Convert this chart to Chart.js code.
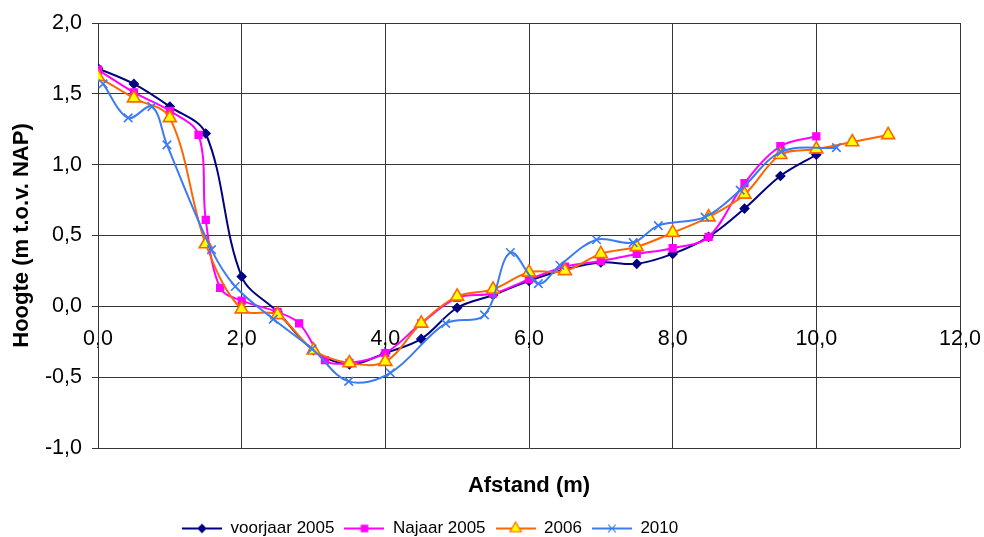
<!DOCTYPE html>
<html>
<head>
<meta charset="utf-8">
<script src="https://cdn.jsdelivr.net/npm/chart.js@4.4.0/dist/chart.umd.min.js"></script>
<style>
  html, body { margin: 0; padding: 0; background: #fff; }
  #wrap { position: relative; width: 984px; height: 537px; }
</style>
</head>
<body>
<div id="wrap"><canvas id="profiel"></canvas></div>
<script>
// afstand (m) en hoogte (m t.o.v. NAP) per meting
const voorjaar05X = [0, 0.5, 1, 1.5, 2, 2.5, 3, 3.5, 4, 4.5, 5, 5.5, 6, 6.5, 7, 7.5, 8, 8.5, 9, 9.5, 10];
const voorjaar05Y = [1.68, 1.57, 1.41, 1.22, 0.21, -0.04, -0.31, -0.41, -0.33, -0.23, -0.01, 0.08, 0.18, 0.26, 0.31, 0.30, 0.37, 0.49, 0.69, 0.92, 1.07];

const najaar05X = [0, 0.5, 1, 1.4, 1.5, 1.7, 2, 2.5, 2.8, 3.16, 3.5, 4, 4.5, 5, 5.5, 6, 6.5, 7, 7.5, 8, 8.5, 9, 9.5, 10];
const najaar05Y = [1.67, 1.51, 1.38, 1.21, 0.61, 0.13, 0.04, -0.04, -0.12, -0.38, -0.40, -0.33, -0.12, 0.06, 0.09, 0.19, 0.28, 0.32, 0.37, 0.41, 0.49, 0.87, 1.13, 1.20];

const meting06X = [0, 0.5, 1, 1.5, 2, 2.5, 3, 3.5, 4, 4.5, 5, 5.5, 6, 6.5, 7, 7.5, 8, 8.5, 9, 9.5, 10, 10.5, 11];
const meting06Y = [1.62, 1.47, 1.33, 0.44, -0.02, -0.06, -0.31, -0.40, -0.39, -0.12, 0.07, 0.12, 0.24, 0.25, 0.37, 0.42, 0.52, 0.63, 0.79, 1.07, 1.11, 1.16, 1.21];

const meting10X = [0.07, 0.42, 0.75, 0.96, 1.58, 1.91, 2.44, 2.98, 3.49, 4.07, 4.84, 5.38, 5.74, 6.13, 6.43, 6.94, 7.45, 7.8, 8.45, 8.94, 9.51, 10.28];
const meting10Y = [1.57, 1.33, 1.41, 1.14, 0.40, 0.14, -0.09, -0.30, -0.53, -0.47, -0.12, -0.06, 0.38, 0.16, 0.29, 0.47, 0.45, 0.57, 0.63, 0.82, 1.09, 1.12];

const labels = ['voorjaar 2005', 'Najaar 2005', '2006', '2010'];

const pts = (xs, ys) => xs.map((x, i) => ({ x, y: ys[i] }));
const komma = v => Number(v).toFixed(1).replace('.', ',');

const gridKleur = '#363636';
Chart.defaults.font.family = "'Liberation Sans', Arial, sans-serif";
Chart.defaults.font.size = 17;
Chart.defaults.color = '#000';

// lijntje met marker voor de legenda
function icoon(lijn, vul, rand, stijl, r) {
  const c = document.createElement('canvas');
  c.width = 40; c.height = 18;
  const g = c.getContext('2d');
  g.strokeStyle = lijn; g.lineWidth = 2;
  g.beginPath(); g.moveTo(0, 9); g.lineTo(40, 9); g.stroke();
  g.fillStyle = vul; g.strokeStyle = rand; g.lineWidth = 1.2;
  Chart.helpers.drawPoint(g, { pointStyle: stijl, radius: r, rotation: 0, borderWidth: 1.2 }, 20, 9);
  return c;
}

const series = [
  { label: labels[0], data: pts(voorjaar05X, voorjaar05Y), kleur: '#000080', vul: '#000080', stijl: 'rectRot', r: 4.5, order: 3 },
  { label: labels[1], data: pts(najaar05X, najaar05Y), kleur: '#ff00ff', vul: '#ff00ff', stijl: 'rect', r: 5, order: 2 },
  { label: labels[2], data: pts(meting06X, meting06Y), kleur: '#ff6600', vul: '#ffff00', stijl: 'triangle', r: 7.5, order: 1 },
  { label: labels[3], data: pts(meting10X, meting10Y), kleur: '#3c7cf0', vul: '#3c7cf0', stijl: 'crossRot', r: 6, order: 0 }
];

const iconen = series.map(s => icoon(s.kleur, s.vul, s.kleur, s.stijl, s.stijl === 'triangle' ? 6.5 : s.r - 0.5));

// legenda iets naar links, zoals in het origineel
const legendaSchuif = {
  id: 'legendaSchuif',
  afterLayout(chart) {
    const lg = chart.legend;
    if (lg && lg.lineWidths) lg.right = 364 - lg.left - 10 + lg.lineWidths[0];
  }
};

new Chart(document.getElementById('profiel'), {
  type: 'scatter',
  data: {
    datasets: series.map(s => ({
      label: s.label,
      data: s.data,
      xAxisID: 'x',
      yAxisID: 'y',
      showLine: true,
      tension: 0.35,
      borderColor: s.kleur,
      borderWidth: 2,
      backgroundColor: s.vul,
      pointStyle: s.stijl,
      pointRadius: s.r,
      pointBackgroundColor: s.vul,
      pointBorderColor: s.kleur,
      pointBorderWidth: s.stijl === 'crossRot' ? 1.6 : (s.stijl === 'triangle' ? 1.6 : 1.2),
      order: s.order
    }))
  },
  options: {
    responsive: true,
    maintainAspectRatio: false,
    animation: false,
    layout: { padding: { top: 23, right: 24, bottom: -10, left: 0 } },
    scales: {
      x: {
        type: 'linear',
        position: { y: 0 },
        min: 0, max: 12,
        ticks: { stepSize: 2, padding: 20, font: { size: 21.5 }, callback: komma },
        grid: { color: gridKleur, lineWidth: 1, drawTicks: false },
        border: { color: gridKleur, width: 1 },
        afterFit: s => { s.paddingLeft = 0; s.paddingRight = 0; }
      },
      xt: {
        type: 'linear',
        position: 'bottom',
        min: 0, max: 1,
        ticks: { display: false },
        grid: { display: false },
        border: { display: false },
        title: { display: true, text: 'Afstand (m)', font: { weight: 'bold', size: 22 }, padding: { top: 0, bottom: 11 } },
        afterFit: s => { s.height = 62; }
      },
      y: {
        type: 'linear',
        position: 'left',
        min: -1, max: 2,
        ticks: { stepSize: 0.5, padding: 10, font: { size: 21.5 }, callback: komma },
        grid: { color: gridKleur, lineWidth: 1, tickLength: 6 },
        border: { color: gridKleur, width: 1 },
        title: { display: true, text: 'Hoogte (m t.o.v. NAP)', font: { weight: 'bold', size: 22 }, padding: { top: 9, bottom: 0 } },
        afterFit: s => { s.width = 98; }
      }
    },
    plugins: {
      tooltip: { enabled: false },
      legend: {
        position: 'bottom',
        labels: {
          usePointStyle: true,
          pointStyleWidth: 40,
          padding: 10,
          font: { size: 17 },
          generateLabels: chart => chart.data.datasets.map((ds, i) => ({
            text: ds.label,
            pointStyle: iconen[i],
            datasetIndex: i,
            hidden: false,
            lineWidth: 0,
            strokeStyle: 'rgba(0,0,0,0)',
            fillStyle: 'rgba(0,0,0,0)',
            fontColor: '#000'
          }))
        }
      }
    }
  },
  plugins: [legendaSchuif]
});
</script>
</body>
</html>
